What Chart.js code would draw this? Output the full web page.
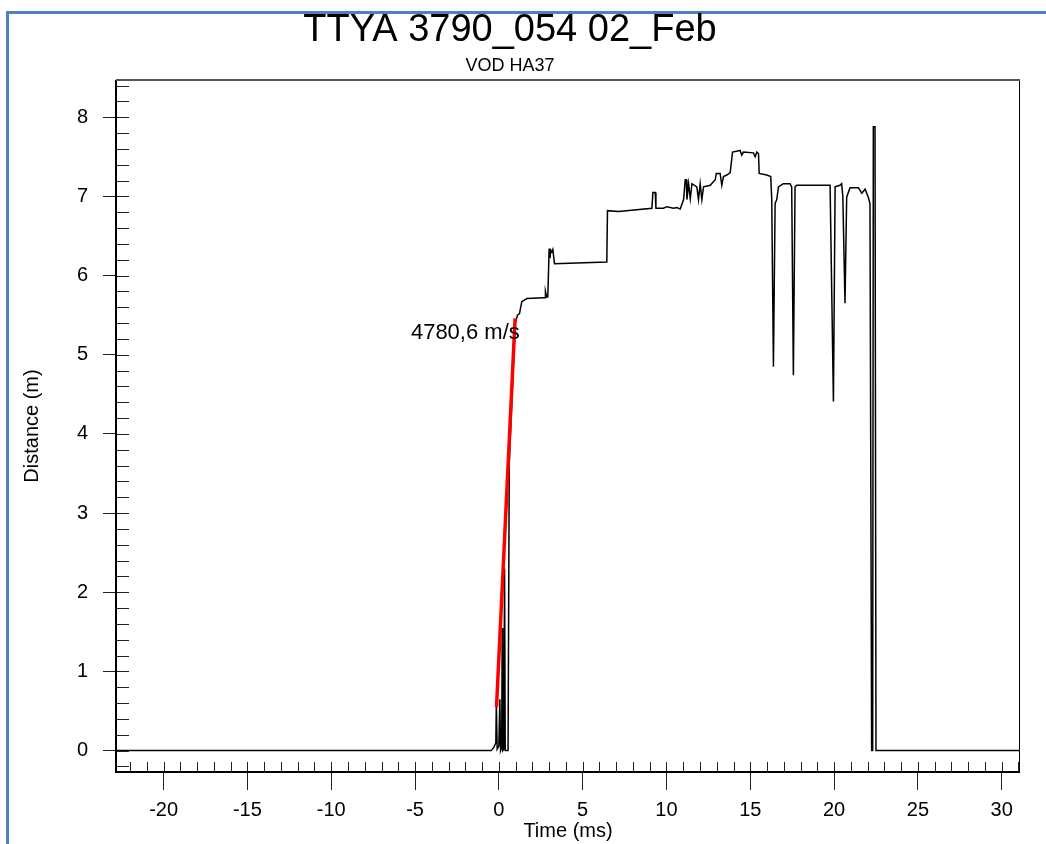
<!DOCTYPE html>
<html lang="en">
<head>
    <meta charset="UTF-8">
    <title>TTYA 3790_054 02_Feb</title>
    <script src="https://cdn.jsdelivr.net/npm/chart.js"></script>
    <style>
        html, body { margin: 0; padding: 0; background: #fff; overflow: hidden; }
        #frame {
            position: absolute; left: 6px; top: 11px; right: 0; bottom: 0;
            border-left: 3px solid #4f81bd; border-top: 3px solid #4f81bd;
        }
        #plot { position: absolute; left: 0; top: 0; }
    </style>
</head>
<body>
    <div id="frame"></div>
    <canvas id="plot" width="1046" height="844"></canvas>

    <script>
        // --- Daten ---
        const traceTime = [-22.84, -0.45, -0.3, -0.18, -0.15, -0.1, 0.0, 0.06, 0.1, 0.17, 0.2, 0.23, 0.3, 0.34, 0.38, 0.55,
            0.62, 0.97, 1.11, 1.23, 1.37, 1.67, 2.66, 2.76, 2.78, 2.85, 2.92, 3.0, 3.05, 3.1, 3.16, 3.22, 3.32,
            6.44, 6.48, 7.14, 9.13, 9.19, 9.33, 9.37, 9.82, 10.02, 10.42, 10.62, 10.82,
            11.02, 11.12, 11.18, 11.22, 11.32, 11.42, 11.52, 11.81, 11.91, 12.01, 12.11, 12.21, 12.61,
            12.91, 12.97, 13.2, 13.3, 13.4, 13.6, 13.8, 13.94, 14.39, 14.49, 14.59, 15.19, 15.29, 15.39,
            15.49, 15.53, 15.98, 16.22, 16.28, 16.38, 16.48, 16.58, 16.68, 16.97, 17.37, 17.47, 17.57,
            17.67, 17.77, 19.76, 19.96, 20.06, 20.35, 20.45, 20.52, 20.65, 20.75, 20.95, 21.45, 21.65,
            21.85, 22.04, 22.14, 22.24, 22.3, 22.34, 22.44, 22.5, 31.1];
        const traceDist = [0, 0, 0.04, 0.1, 0.6, 0.02, 0.06, 0.65, 0.0, 0.04, 1.55, 0.0, 0.02, 2.3, 0.0, 0.0,
            3.62, 5.39, 5.5, 5.52, 5.67, 5.71, 5.72, 5.72, 5.8, 5.73, 5.73, 6.34, 6.22, 6.32, 6.3, 6.33, 6.15,
            6.17, 6.82, 6.81, 6.85, 7.05, 7.05, 6.85, 6.85, 6.87, 6.85, 6.86, 6.84,
            6.96, 7.21, 7.21, 6.96, 7.16, 6.97, 7.16, 7.12, 6.96, 7.16, 6.96, 7.12, 7.14,
            7.21, 7.29, 7.29, 7.14, 7.25, 7.27, 7.3, 7.56, 7.58, 7.52, 7.56, 7.55, 7.5, 7.56,
            7.54, 7.29, 7.27, 7.25, 6.96, 4.85, 6.91, 6.96, 7.12, 7.16, 7.16, 7.12, 4.74,
            7.12, 7.14, 7.14, 4.41, 7.12, 7.14, 7.16, 7.0, 5.65, 6.99, 7.11, 7.11, 7.04,
            7.09, 6.99, 6.91, 0, 0, 7.88, 7.88, 0, 0];

        // Regressionsgerade (rot)
        const fitTime = [-0.14, 0.97];
        const fitDist = [0.55, 5.46];
        const fitLabel = '4780,6 m/s';
        const fitLabelAt = [-2.0, 5.27];

        const xTicks = [-20, -15, -10, -5, 0, 5, 10, 15, 20, 25, 30];
        const yTicks = [0, 1, 2, 3, 4, 5, 6, 7, 8];
        const xRange = [-22.84, 31.09];
        const yRange = [-0.27, 8.47];

        // Nebenstriche (innen)
        const xMinor = [];
        for (let v = -22; v <= 31; v++) xMinor.push(v);
        const yMinor = [];
        for (let k = -1; k <= 42; k++) yMinor.push(k / 5);

        const FONT = '"Liberation Sans", Arial, sans-serif';
        Chart.defaults.font.family = FONT;
        Chart.defaults.color = '#000';

        // Rahmen, innere Striche und Beschriftung der Geraden
        const framePlugin = {
            id: 'framePlugin',
            afterDatasetsDraw(chart) {
                const { ctx, chartArea: a, scales: { x, y } } = chart;
                ctx.save();
                ctx.strokeStyle = '#222';
                ctx.lineWidth = 1;
                ctx.beginPath();
                xMinor.forEach(v => {
                    const px = Math.round(x.getPixelForValue(v)) + 0.5;
                    ctx.moveTo(px, a.bottom);
                    ctx.lineTo(px, a.bottom - 10);
                });
                yMinor.forEach(v => {
                    const py = Math.round(y.getPixelForValue(v)) + 0.5;
                    ctx.moveTo(a.left, py);
                    ctx.lineTo(a.left + 13, py);
                });
                ctx.stroke();

                ctx.strokeStyle = '#000';
                ctx.lineWidth = 2;
                ctx.beginPath();
                ctx.moveTo(a.left, a.top);
                ctx.lineTo(a.left, a.bottom);
                ctx.lineTo(a.right, a.bottom);
                ctx.stroke();
                ctx.lineWidth = 1;
                ctx.beginPath();
                ctx.moveTo(a.right - 0.5, a.top);
                ctx.lineTo(a.right - 0.5, a.bottom);
                ctx.stroke();
                ctx.strokeStyle = '#555';
                ctx.lineWidth = 2;
                ctx.beginPath();
                ctx.moveTo(a.left, a.top);
                ctx.lineTo(a.right, a.top);
                ctx.stroke();

                ctx.fillStyle = '#000';
                ctx.font = '22px ' + FONT;
                ctx.textAlign = 'center';
                ctx.textBaseline = 'middle';
                ctx.fillText(fitLabel, x.getPixelForValue(fitLabelAt[0]), y.getPixelForValue(fitLabelAt[1]));
                ctx.restore();
            }
        };

        const ctx = document.getElementById('plot').getContext('2d');
        new Chart(ctx, {
            type: 'line',
            data: {
                datasets: [{
                    label: 'Fit',
                    data: fitTime.map((t, i) => ({ x: t, y: fitDist[i] })),
                    borderColor: '#ff0000',
                    borderWidth: 3.5,
                    pointRadius: 0,
                    tension: 0,
                    order: 0
                }, {
                    label: 'VOD',
                    data: traceTime.map((t, i) => ({ x: t, y: traceDist[i] })),
                    borderColor: '#000',
                    borderWidth: 1.5,
                    pointRadius: 0,
                    tension: 0,
                    order: 1
                }]
            },
            options: {
                responsive: false,
                animation: false,
                devicePixelRatio: 1,
                layout: { padding: { left: 0, right: 26, top: 0, bottom: 0 } },
                plugins: {
                    legend: { display: false },
                    tooltip: { enabled: false },
                    title: {
                        display: true,
                        text: 'TTYA 3790_054 02_Feb',
                        color: '#000',
                        font: { size: 38, weight: 'normal', lineHeight: 1 },
                        padding: { top: 12, bottom: 0 }
                    },
                    subtitle: {
                        display: true,
                        text: 'VOD HA37',
                        color: '#000',
                        font: { size: 18, lineHeight: 1 },
                        padding: { top: 7, bottom: 5 }
                    }
                },
                scales: {
                    x: {
                        type: 'linear',
                        min: xRange[0],
                        max: xRange[1],
                        afterBuildTicks: s => { s.ticks = xTicks.map(v => ({ value: v })); },
                        afterFit: s => { s.height = 72; },
                        border: { display: false },
                        grid: { drawOnChartArea: false, drawTicks: true, tickLength: 18, color: '#222' },
                        ticks: { autoSkip: false, maxRotation: 0, padding: 8, font: { size: 20 }, color: '#000' },
                        title: { display: true, text: 'Time (ms)', font: { size: 20 }, color: '#000', padding: { top: 0, bottom: 1 } }
                    },
                    y: {
                        type: 'linear',
                        min: yRange[0],
                        max: yRange[1],
                        afterBuildTicks: s => { s.ticks = yTicks.map(v => ({ value: v })); },
                        afterFit: s => { s.width = 116; },
                        border: { display: false },
                        grid: { drawOnChartArea: false, drawTicks: true, tickLength: 13, color: '#222' },
                        ticks: { padding: 15, font: { size: 20 }, color: '#000' },
                        title: { display: true, text: 'Distance (m)', font: { size: 20 }, color: '#000', padding: { top: 20, bottom: 0 } }
                    }
                }
            },
            plugins: [framePlugin]
        });
    </script>
</body>
</html>
